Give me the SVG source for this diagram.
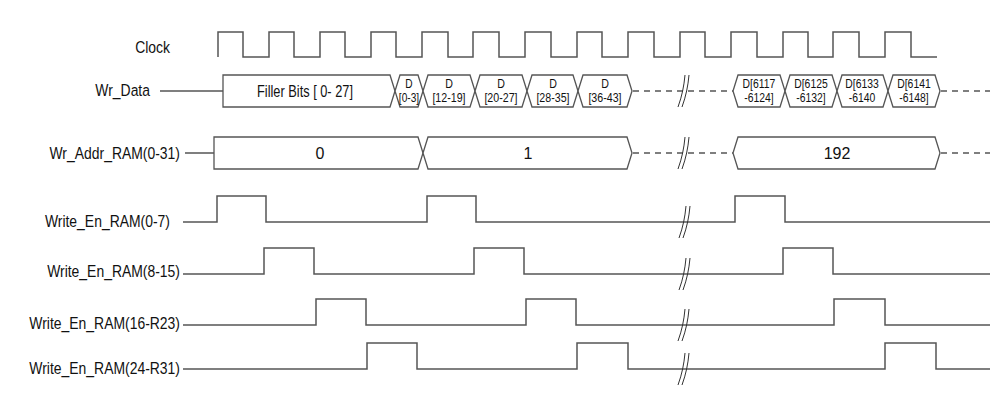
<svg xmlns="http://www.w3.org/2000/svg" width="990" height="400" viewBox="0 0 990 400">
<style>
.w{fill:none;stroke:#555;stroke-width:1.5}
.bx{fill:#fff;stroke:#555;stroke-width:1.3}
.d{fill:none;stroke:#555;stroke-width:1.3;stroke-dasharray:6 5}
.br{fill:none;stroke:#333;stroke-width:1}
.l{font-family:"Liberation Sans",Arial,sans-serif;font-size:17px;fill:#111;text-anchor:end}
.t{font-family:"Liberation Sans",Arial,sans-serif;font-size:16px;fill:#111;text-anchor:middle}
.s{font-family:"Liberation Sans",Arial,sans-serif;font-size:13px;fill:#111;text-anchor:middle}
</style>
<defs>
<g id="brk"><path class="br" d="M-6 16 C-2 5 0 -5 1 -16 M-2 16 C2 5 4 -5 5 -16"/></g>
</defs>
<g id="labels">
<text class="l" x="170" y="53" transform="translate(170,0) scale(0.82,1) translate(-170,0)">Clock</text>
<text class="l" x="150" y="96" transform="translate(150,0) scale(0.82,1) translate(-150,0)">Wr_Data</text>
<text class="l" x="180" y="159" transform="translate(180,0) scale(0.82,1) translate(-180,0)">Wr_Addr_RAM(0-31)</text>
<text class="l" x="170" y="227" transform="translate(170,0) scale(0.82,1) translate(-170,0)">Write_En_RAM(0-7)</text>
<text class="l" x="180" y="277" transform="translate(180,0) scale(0.82,1) translate(-180,0)">Write_En_RAM(8-15)</text>
<text class="l" x="180" y="329" transform="translate(180,0) scale(0.82,1) translate(-180,0)">Write_En_RAM(16-R23)</text>
<text class="l" x="180" y="374" transform="translate(180,0) scale(0.82,1) translate(-180,0)">Write_En_RAM(24-R31)</text>
</g>
<g id="clock">
<path class="w" d="M218 57 V32 H243 V57 H269 V32 H294 V57 H320 V32 H345 V57 H371 V32 H396 V57 H422 V32 H448 V57 H473 V32 H499 V57 H525 V32 H551 V57 H577 V32 H602 V57 H628 V32 H654 V57 H680 V32 H705 V57 H731 V32 H757 V57 H783 V32 H808 V57 H833 V32 H859 V57 H885 V32 H911 V57 H937"/>
</g>
<g id="wr_data">
<path class="w" d="M160 91 H223"/>
<path class="bx" d="M223 75 H390 L395 91 L390 107 H223 Z"/>
<text class="t" x="305" y="97" transform="translate(305,0) scale(0.8,1) translate(-305,0)">Filler Bits [ 0- 27]</text>
<path class="bx" d="M400 75 H418 L423 91 L418 107 H400 L395 91 Z"/>
<g transform="translate(409,0) scale(0.78,1) translate(-409,0)">
<text class="s" x="409" y="88">D</text><text class="s" x="409" y="102">[0-3]</text></g>
<path class="bx" d="M428 75 H470 L475 91 L470 107 H428 L423 91 Z"/>
<path class="bx" d="M480 75 H522 L527 91 L522 107 H480 L475 91 Z"/>
<path class="bx" d="M532 75 H573 L578 91 L573 107 H532 L527 91 Z"/>
<path class="bx" d="M583 75 H627 L632 91 L627 107 H583 L578 91 Z"/>
<g transform="translate(449,0) scale(0.82,1) translate(-449,0)"><text class="s" x="449" y="88">D</text><text class="s" x="449" y="102">[12-19]</text></g>
<g transform="translate(501,0) scale(0.82,1) translate(-501,0)"><text class="s" x="501" y="88">D</text><text class="s" x="501" y="102">[20-27]</text></g>
<g transform="translate(553,0) scale(0.82,1) translate(-553,0)"><text class="s" x="553" y="88">D</text><text class="s" x="553" y="102">[28-35]</text></g>
<g transform="translate(605,0) scale(0.82,1) translate(-605,0)"><text class="s" x="605" y="88">D</text><text class="s" x="605" y="102">[36-43]</text></g>
<path class="d" d="M633 91 H733"/>
<path class="bx" d="M738 75 H780 L785 91 L780 107 H738 L733 91 Z"/>
<path class="bx" d="M790 75 H832 L837 91 L832 107 H790 L785 91 Z"/>
<path class="bx" d="M842 75 H883 L888 91 L883 107 H842 L837 91 Z"/>
<path class="bx" d="M893 75 H935 L940 91 L935 107 H893 L888 91 Z"/>
<g transform="translate(759,0) scale(0.8,1) translate(-759,0)"><text class="s" x="759" y="88">D[6117</text><text class="s" x="759" y="102">-6124]</text></g>
<g transform="translate(811,0) scale(0.8,1) translate(-811,0)"><text class="s" x="811" y="88">D[6125</text><text class="s" x="811" y="102">-6132]</text></g>
<g transform="translate(862,0) scale(0.8,1) translate(-862,0)"><text class="s" x="862" y="88">D[6133</text><text class="s" x="862" y="102">-6140</text></g>
<g transform="translate(914,0) scale(0.8,1) translate(-914,0)"><text class="s" x="914" y="88">D[6141</text><text class="s" x="914" y="102">-6148]</text></g>
<path class="d" d="M941 91 H990"/>
<use href="#brk" x="684" y="91"/>
</g>
<g id="wr_addr">
<path class="w" d="M185 153 H214"/>
<path class="bx" d="M214 137 H418 L423 153 L418 169 H214 Z"/>
<text class="t" x="320" y="159">0</text>
<path class="bx" d="M428 137 H627 L632 153 L627 169 H428 L423 153 Z"/>
<text class="t" x="528" y="159">1</text>
<path class="d" d="M633 153 H733"/>
<path class="bx" d="M738 137 H935 L940 153 L935 169 H738 L733 153 Z"/>
<text class="t" x="837" y="159">192</text>
<path class="d" d="M941 153 H990"/>
<use href="#brk" x="684" y="153"/>
</g>
<g id="we0">
<path class="w" d="M183 222 H217 V196 H266 V222 H427 V196 H476 V222 H735 V196 H785 V222 H990"/>
<use href="#brk" x="685" y="222"/>
</g>
<g id="we1">
<path class="w" d="M183 274 H264 V248 H314 V274 H474 V248 H524 V274 H783 V248 H833 V274 H990"/>
<use href="#brk" x="685" y="274"/>
</g>
<g id="we2">
<path class="w" d="M183 325 H316 V299 H366 V325 H526 V299 H576 V325 H834 V299 H885 V325 H990"/>
<use href="#brk" x="684" y="325"/>
</g>
<g id="we3">
<path class="w" d="M183 369 H367 V343 H417 V369 H577 V343 H628 V369 H885 V343 H936 V369 H990"/>
<use href="#brk" x="684" y="369"/>
</g>
</svg>
